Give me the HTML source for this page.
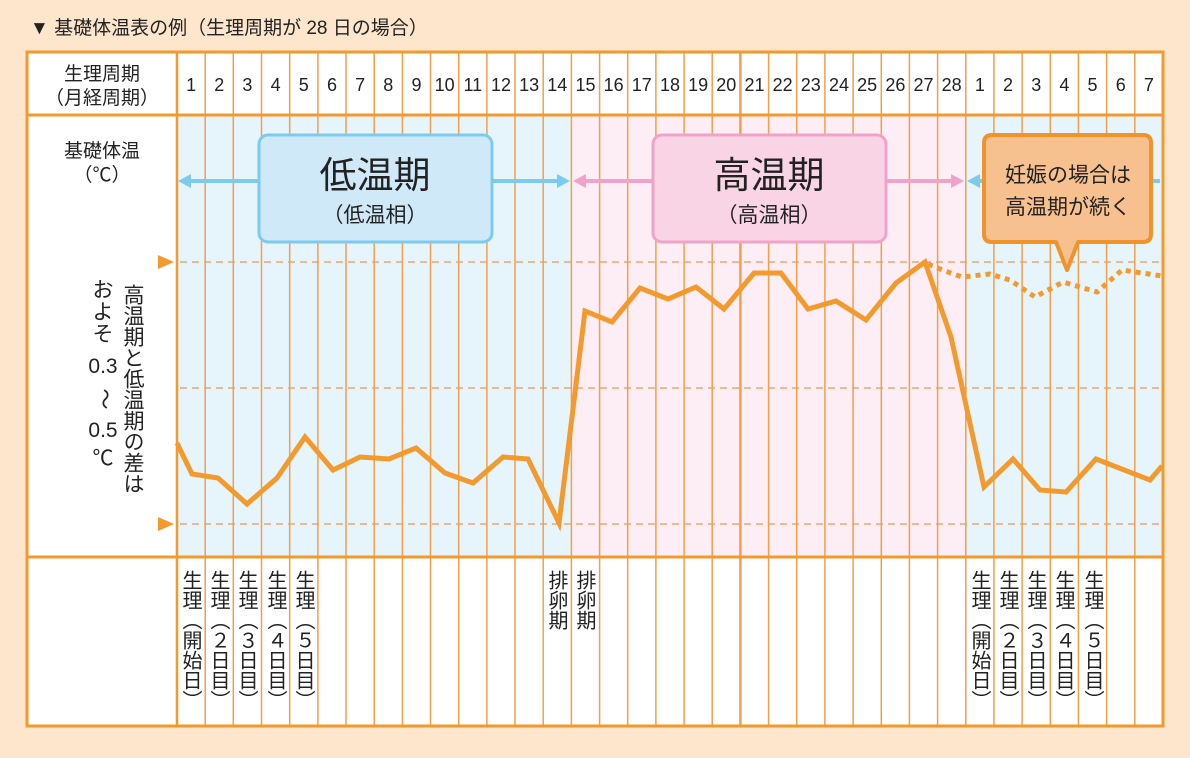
<!DOCTYPE html>
<html><head><meta charset="utf-8">
<style>
html,body{margin:0;padding:0;}
body{width:1190px;height:758px;background:#fde6cc;position:relative;overflow:hidden;font-family:"Liberation Sans","Noto Sans CJK JP",sans-serif;color:#222;}
svg{position:absolute;left:0;top:0;}
.v{position:absolute;writing-mode:vertical-rl;font-size:20px;line-height:22px;color:#222;letter-spacing:0;}
.lc{position:absolute;display:flex;flex-direction:column;align-items:center;font-size:21px;line-height:22px;color:#222;}
</style></head><body>
<svg width="1190" height="758" viewBox="0 0 1190 758" font-family="Liberation Sans, Noto Sans CJK JP, sans-serif">
<text x="30" y="34" font-size="19" fill="#222">▼ 基礎体温表の例（生理周期が 28 日の場合）</text>
<rect x="27" y="52" width="1136" height="674" fill="#fff"/>
<rect x="177" y="115" width="394.4" height="442" fill="#e6f4fb"/>
<rect x="571.4" y="115" width="394.4" height="442" fill="#fdeef5"/>
<rect x="965.8" y="115" width="197.2" height="442" fill="#e6f4fb"/>
<g stroke="#e8a877" stroke-width="1.5" stroke-dasharray="7,5">
<line x1="180" y1="262" x2="1160" y2="262"/>
<line x1="180" y1="388" x2="1160" y2="388"/>
<line x1="180" y1="524" x2="1160" y2="524"/>
</g>
<path fill="none" stroke="#f0a04b" stroke-width="1.5" d="M205.2 52V726M233.3 52V726M261.5 52V726M289.7 52V726M317.9 52V726M346 52V726M374.2 52V726M402.4 52V726M430.5 52V726M458.7 52V726M486.9 52V726M515 52V726M543.2 52V726M571.4 52V726M599.6 52V726M627.7 52V726M655.9 52V726M684.1 52V726M712.2 52V726M768.6 52V726M796.7 52V726M824.9 52V726M853.1 52V726M881.3 52V726M909.4 52V726M937.6 52V726M965.8 52V726M993.9 52V726M1022.1 52V726M1050.3 52V726M1078.4 52V726M1106.6 52V726M1134.8 52V726"/>
<path stroke="#f0a04b" stroke-width="2.5" d="M740.4 52V726"/>
<polygon points="158,255 174,262 158,269" fill="#f39a2e"/>
<polygon points="158,517 174,524 158,531" fill="#f39a2e"/>
<g stroke-width="4">
<line x1="188" y1="181" x2="560" y2="181" stroke="#7ccbef"/>
<line x1="582" y1="181" x2="954" y2="181" stroke="#f0a3c8"/>
<line x1="976" y1="181" x2="1160" y2="181" stroke="#7ccbef"/>
</g>
<polygon points="178,181 191,174 191,188" fill="#7ccbef"/>
<polygon points="570,181 557,174 557,188" fill="#7ccbef"/>
<polygon points="573,181 586,174 586,188" fill="#f0a3c8"/>
<polygon points="964,181 951,174 951,188" fill="#f0a3c8"/>
<polygon points="967,181 980,174 980,188" fill="#7ccbef"/>
<rect x="259" y="135" width="233" height="107" rx="9" fill="#cfe9f8" stroke="#7ccbef" stroke-width="3"/>
<text x="375" y="188" font-size="37" text-anchor="middle" fill="#222">低温期</text>
<text x="375" y="222" font-size="21" text-anchor="middle" fill="#222">（低温相）</text>
<rect x="653" y="135" width="233" height="107" rx="9" fill="#f9d4e4" stroke="#f0a3c8" stroke-width="3"/>
<text x="769" y="188" font-size="37" text-anchor="middle" fill="#222">高温期</text>
<text x="769" y="222" font-size="21" text-anchor="middle" fill="#222">（高温相）</text>
<path d="M992 135 H1143 Q1151 135 1151 143 V234 Q1151 242 1143 242 H1078 L1067 270 L1056 242 H992 Q984 242 984 234 V143 Q984 135 992 135Z" fill="#f7c18f" stroke="#f0932b" stroke-width="4" stroke-linejoin="round"/>
<text x="1068" y="182" font-size="21" text-anchor="middle" fill="#222">妊娠の場合は</text>
<text x="1068" y="214" font-size="21" text-anchor="middle" fill="#222">高温期が続く</text>
<polyline fill="none" stroke="#f39a2e" stroke-width="5" stroke-linejoin="miter" points="177,443 192,474 218,478 247,504 277,478 305,437 333,470 360,457 389,459 416,448 445,473 473,483 503,457 528,459 559,523 585,311 612,322 640,288 668,299 696,287 724,309 754,273 781,273 808,309 836,301 866,320 896,283 925,262 951,337 984,487 1013,459 1040,490 1066,492 1096,459 1150,480 1162,466"/>
<polyline fill="none" stroke="#f39a2e" stroke-width="5" stroke-dasharray="5,5" points="928,264 945,271 962,277 990,274 1010,280 1035,297 1063,282 1097,292 1122,270 1162,276"/>
<line x1="27" y1="115" x2="1163" y2="115" stroke="#f39a2e" stroke-width="3"/>
<line x1="27" y1="557" x2="1163" y2="557" stroke="#f39a2e" stroke-width="3"/>
<line x1="177" y1="52" x2="177" y2="726" stroke="#f39a2e" stroke-width="2.5"/>
<rect x="27" y="52" width="1136" height="674" fill="none" stroke="#f39a2e" stroke-width="3"/>
<text x="102" y="80" font-size="19" text-anchor="middle" fill="#222">生理周期</text>
<text x="102" y="104" font-size="19" text-anchor="middle" fill="#222">（月経周期）</text>
<text x="102" y="157" font-size="19" text-anchor="middle" fill="#222">基礎体温</text>
<text x="102" y="181" font-size="19" text-anchor="middle" fill="#222">（℃）</text>
<g font-size="18" text-anchor="middle" fill="#222">
<text x="191.1" y="91">1</text><text x="219.3" y="91">2</text><text x="247.4" y="91">3</text><text x="275.6" y="91">4</text><text x="303.8" y="91">5</text><text x="332" y="91">6</text><text x="360.1" y="91">7</text><text x="388.3" y="91">8</text><text x="416.5" y="91">9</text><text x="444.6" y="91">10</text><text x="472.8" y="91">11</text><text x="501" y="91">12</text><text x="529.1" y="91">13</text><text x="557.3" y="91">14</text><text x="585.5" y="91">15</text><text x="613.7" y="91">16</text><text x="641.8" y="91">17</text><text x="670" y="91">18</text><text x="698.2" y="91">19</text><text x="726.3" y="91">20</text><text x="754.5" y="91">21</text><text x="782.7" y="91">22</text><text x="810.8" y="91">23</text><text x="839" y="91">24</text><text x="867.2" y="91">25</text><text x="895.4" y="91">26</text><text x="923.5" y="91">27</text><text x="951.7" y="91">28</text><text x="979.9" y="91">1</text><text x="1008" y="91">2</text><text x="1036.2" y="91">3</text><text x="1064.4" y="91">4</text><text x="1092.5" y="91">5</text><text x="1120.7" y="91">6</text><text x="1148.9" y="91">7</text>
</g>
</svg>
<div class="v" style="left:120px;top:284px;font-size:21px;line-height:24px;">高温期と低温期の差は</div>
<div class="lc" style="left:82px;top:280px;width:42px;">
<span>お</span><span>よ</span><span>そ</span><span style="margin-top:10px">0.3</span><span style="transform:rotate(90deg);margin:10px 0">～</span><span>0.5</span><span style="margin-top:6px">℃</span>
</div>
<div class="v" style="left:179px;top:570px;">生理（開始日）</div>
<div class="v" style="left:207px;top:570px;">生理（２日目）</div>
<div class="v" style="left:235px;top:570px;">生理（３日目）</div>
<div class="v" style="left:264px;top:570px;">生理（４日目）</div>
<div class="v" style="left:292px;top:570px;">生理（５日目）</div>
<div class="v" style="left:545px;top:570px;">排卵期</div>
<div class="v" style="left:573px;top:570px;">排卵期</div>
<div class="v" style="left:968px;top:570px;">生理（開始日）</div>
<div class="v" style="left:996px;top:570px;">生理（２日目）</div>
<div class="v" style="left:1024px;top:570px;">生理（３日目）</div>
<div class="v" style="left:1052px;top:570px;">生理（４日目）</div>
<div class="v" style="left:1081px;top:570px;">生理（５日目）</div>
</body></html>
